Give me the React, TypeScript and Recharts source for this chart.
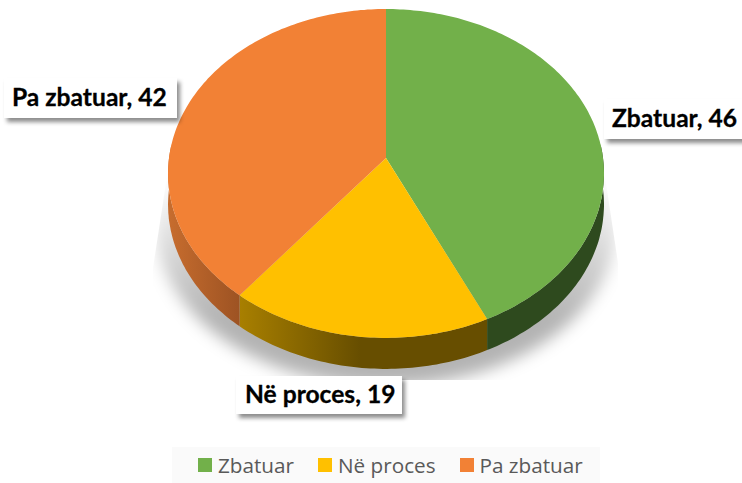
import React from 'react';
import { PieChart, Pie, Legend } from 'recharts';

const categories = ['Zbatuar', 'Në proces', 'Pa zbatuar'];
const counts = [46, 19, 42];
const topColors = ['#72b04a', '#ffc000', '#f28135'];
const wallFills = ['#2e4a1e', 'url(#wallYellow)', 'url(#wallOrange)'];
const labelBoxes = [
  { x: 604, y: 99, width: 142, height: 40, textX: 612 },
  { x: 236, y: 376, width: 166, height: 38, textX: 245 },
  { x: 4, y: 78, width: 173, height: 40, textX: 12 },
];

const pieData = categories.map((name, i) => ({ name, value: counts[i], fill: topColors[i] }));

// fake 3D: tilt the flat pie with a small perspective squeeze
const TILT = 0.751;
const PERSPECTIVE = 0.094;
const DEPTH = 31;

const project = (cx: number, cy: number, r: number, clockDeg: number) => {
  const rad = (clockDeg * Math.PI) / 180;
  const u = Math.sin(rad);
  const v = -Math.cos(rad);
  const w = 1 - PERSPECTIVE * v;
  return [cx + (r * u) / w, cy + (r * TILT * v) / w];
};

const arcPoints = (cx: number, cy: number, r: number, from: number, to: number) => {
  const pts: number[][] = [];
  for (let a = from; a < to; a += 1) pts.push(project(cx, cy, r, a));
  pts.push(project(cx, cy, r, to));
  return pts;
};

const toPath = (pts: number[][]) =>
  pts.map((p, i) => `${i === 0 ? 'M' : 'L'}${p[0].toFixed(1)},${p[1].toFixed(1)}`).join(' ') + ' Z';

const TiltedSlice = (props: any) => {
  const { cx, cy, outerRadius, startAngle, endAngle, fill, index } = props;
  const from = 90 - startAngle;
  const to = 90 - endAngle;
  const rim = arcPoints(cx, cy, outerRadius, from, to);
  const wallFrom = Math.max(from, 85);
  const wallTo = Math.min(to, 275);
  const wallRim = arcPoints(cx, cy, outerRadius, wallFrom, wallTo);
  const wall = [...wallRim, ...[...wallRim].reverse().map((p) => [p[0], p[1] + DEPTH])];
  return (
    <g>
      <path d={toPath(wall)} fill={wallFills[index]} />
      <path d={toPath([[cx, cy], ...rim])} fill={fill} />
    </g>
  );
};

const SliceLabel = (props: any) => {
  const { index, name, value } = props;
  const box = labelBoxes[index];
  return (
    <g>
      <rect x={box.x} y={box.y} width={box.width} height={box.height} fill="#ffffff" filter="url(#labelShadow)" />
      <text
        x={box.textX}
        y={box.y + box.height / 2 + 8}
        fontFamily="Lato, sans-serif"
        fontWeight={700}
        fontSize={24.6}
        fill="#000000"
        stroke="#000000"
        strokeWidth={0.3}
      >
        {`${name}, ${value}`}
      </text>
    </g>
  );
};

const LegendRow = () => (
  <div
    style={{
      display: 'flex',
      alignItems: 'center',
      height: 36,
      paddingLeft: 26,
      background: '#fafafa',
      fontFamily: '"Open Sans", sans-serif',
      fontSize: 20.7,
      color: '#595959',
      whiteSpace: 'nowrap',
    }}
  >
    {categories.map((name, i) => (
      <span key={name} style={{ display: 'flex', alignItems: 'center', marginRight: 24 }}>
        <span style={{ width: 14, height: 14, background: topColors[i], marginRight: 6 }} />
        {name}
      </span>
    ))}
  </div>
);

export default function App() {
  return (
    <div style={{ position: 'absolute', left: 0, top: 0, width: 742, height: 483, background: '#fff' }}>
      <PieChart width={742} height={483} margin={{ top: 0, right: 0, bottom: 0, left: 0 }}>
        <defs>
          <linearGradient id="wallYellow" gradientUnits="userSpaceOnUse" x1="240" y1="0" x2="360" y2="0">
            <stop offset="0" stopColor="#a87f00" />
            <stop offset="1" stopColor="#674e00" />
          </linearGradient>
          <linearGradient id="wallOrange" gradientUnits="userSpaceOnUse" x1="170" y1="0" x2="245" y2="0">
            <stop offset="0" stopColor="#c66c2e" />
            <stop offset="1" stopColor="#9a5122" />
          </linearGradient>
          <linearGradient id="floorFade" gradientUnits="userSpaceOnUse" x1="0" y1="175" x2="0" y2="320">
            <stop offset="0" stopColor="#000" stopOpacity="0" />
            <stop offset="1" stopColor="#000" stopOpacity="0.3" />
          </linearGradient>
          <filter id="floorBlur" x="-10%" y="-10%" width="120%" height="120%">
            <feGaussianBlur stdDeviation="8" />
          </filter>
          <filter id="labelShadow" x="-10%" y="-20%" width="125%" height="160%">
            <feDropShadow dx="3" dy="4" stdDeviation="2" floodColor="#000" floodOpacity="0.45" />
          </filter>
          <clipPath id="floorClip">
            <path d="M168,170 L153,268 L153,380 L618,380 L618,263 L604,170 Z" />
          </clipPath>
        </defs>
        <g clipPath="url(#floorClip)">
          <ellipse cx={386} cy={226} rx={230} ry={160} fill="url(#floorFade)" filter="url(#floorBlur)" />
        </g>
        <Pie
          data={pieData}
          dataKey="value"
          nameKey="name"
          cx={386}
          cy={158}
          outerRadius={217}
          startAngle={90}
          endAngle={-270}
          stroke="none"
          shape={TiltedSlice}
          label={SliceLabel}
          labelLine={false}
          isAnimationActive={false}
        />
        <Legend
          content={LegendRow}
          layout="horizontal"
          wrapperStyle={{ left: 172, top: 447, width: 428, height: 36 }}
        />
      </PieChart>
    </div>
  );
}
